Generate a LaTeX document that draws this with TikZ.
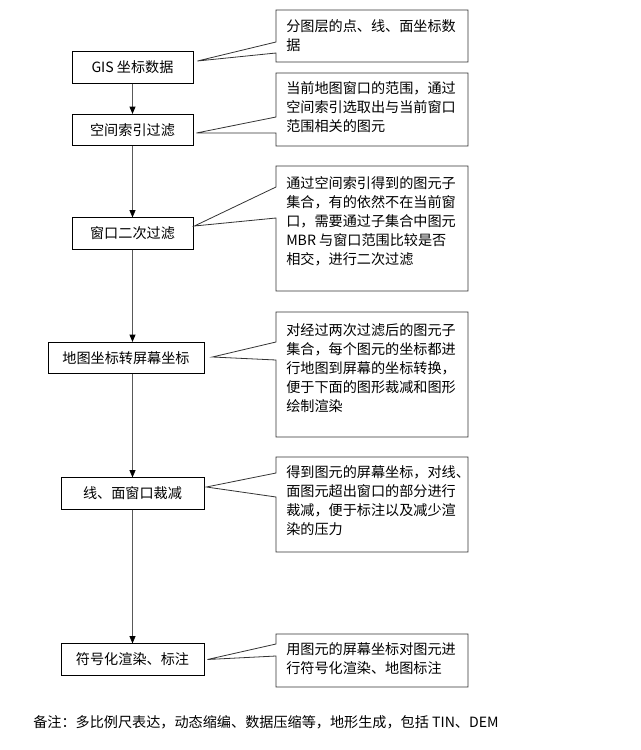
\documentclass[tikz,border=0pt]{standalone}
\usepackage{fontspec}
\setmainfont{Noto Sans CJK SC}
\usetikzlibrary{arrows.meta,calc}

\def\notel{276}
\def\noter{468}

\begin{document}
\begin{tikzpicture}[x=0.75pt,y=-0.75pt,
    font=\fontsize{10.6pt}{14.25pt}\selectfont,
    stepbox/.style={draw=black,line width=0.6pt,inner sep=0pt,minimum height=23.5pt},
    note/.style={anchor=north west,inner sep=0pt,align=left},
    flow/.style={draw=black!65,line width=0.6pt,
      -{Triangle[length=5.5pt,width=4.5pt,color=black]}},
    callout/.style={draw=black!80,line width=0.6pt}]

  \useasboundingbox (0,0) rectangle (640,750);

  % processing steps
  \node[stepbox,minimum width=90.75pt] (gis) at (132.5,67.5) {GIS 坐标数据};
  \node[stepbox,minimum width=90.75pt] (sidx) at (132.5,130) {空间索引过滤};
  \node[stepbox,minimum width=90.75pt] (win) at (132.5,233.5) {窗口二次过滤};
  \node[stepbox,minimum width=117pt] (conv) at (126,358) {地图坐标转屏幕坐标};
  \node[stepbox,minimum width=107.25pt] (clip) at (132.5,493.5) {线、面窗口裁减};
  \node[stepbox,minimum width=107.25pt] (sym) at (132.5,659.5) {符号化渲染、标注};

  \draw[flow] (gis.south) -- (sidx.north);
  \draw[flow] (sidx.south) -- (win.north);
  \draw[flow] (win.south) -- (win.south |- conv.north);
  \draw[flow] (win.south |- conv.south) -- (clip.north);
  \draw[flow] (clip.south) -- (sym.north);

  % callout tips
  \coordinate (gisp) at ($(gis.east)+(4,-6.5)$);
  \coordinate (sidxp) at ($(sidx.east)+(3,3)$);
  \coordinate (winp) at ($(win.east)+(1,-7.5)$);
  \coordinate (convp) at ($(conv.east)+(8,-1)$);
  \coordinate (clipp) at ($(clip.east)+(2,-6.5)$);
  \coordinate (symp) at ($(sym.east)+(3,0)$);

  % callouts
  \draw[callout] (\notel,53) -- (\notel,62) -- (\noter,62) -- (\noter,10)
    -- (\notel,10) -- (\notel,42) -- (gisp) -- cycle;
  \node[note] (n1) at (286,19) {分图层的点、线、面坐标数\\据};

  \draw[callout] (\notel,133) -- (\notel,146) -- (\noter,146) -- (\noter,73)
    -- (\notel,73) -- (\notel,117) -- (sidxp) -- cycle;
  \node[note] (n2) at (286,81) {当前地图窗口的范围，通过\\空间索引选取出与当前窗口\\范围相关的图元};

  \draw[callout] (\notel,218) -- (\notel,291) -- (\noter,291) -- (\noter,166)
    -- (\notel,166) -- (\notel,187) -- (winp) -- cycle;
  \node[note] (n3) at (286,176) {通过空间索引得到的图元子\\集合，有的依然不在当前窗\\口，需要通过子集合中图元\\MBR 与窗口范围比较是否\\相交，进行二次过滤};

  \draw[callout] (\notel,360) -- (\notel,437) -- (\noter,437) -- (\noter,312)
    -- (\notel,312) -- (\notel,342) -- (convp) -- cycle;
  \node[note] (n4) at (286,323) {对经过两次过滤后的图元子\\集合，每个图元的坐标都进\\行地图到屏幕的坐标转换，\\便于下面的图形裁减和图形\\绘制渲染};

  \draw[callout] (\notel,497) -- (\notel,552) -- (\noter,552) -- (\noter,457)
    -- (\notel,457) -- (\notel,473) -- (clipp) -- cycle;
  \node[note] (n5) at (286,465) {得到图元的屏幕坐标，对线、\\面图元超出窗口的部分进行\\裁减，便于标注以及减少渲\\染的压力};

  \draw[callout] (\notel,656) -- (\notel,687) -- (\noter,687) -- (\noter,634)
    -- (\notel,634) -- (\notel,644) -- (symp) -- cycle;
  \node[note] (n6) at (286,642) {用图元的屏幕坐标对图元进\\行符号化渲染、地图标注};

  \node[anchor=west,inner sep=0pt] (memo) at (33,722)
    {备注：多比例尺表达，动态缩编、数据压缩等，地形生成，包括 TIN、DEM};
\end{tikzpicture}
\end{document}
